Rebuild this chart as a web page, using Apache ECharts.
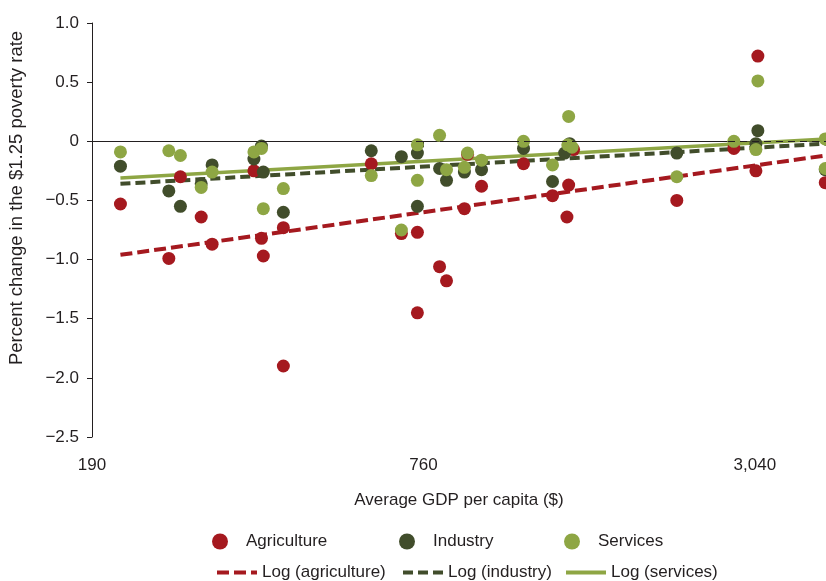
<!DOCTYPE html>
<html>
<head>
<meta charset="utf-8">
<script src="https://cdn.jsdelivr.net/npm/echarts@6/dist/echarts.min.js"></script>
<style>
  html, body { margin: 0; padding: 0; background: #ffffff; }
  #chart { width: 826px; height: 581px; }
</style>
</head>
<body>
<div id="chart"></div>
<script>
// Average GDP per capita ($) and percent change in the $1.25 poverty rate, by sector
const agricultureGdp    = [214, 262, 275, 300, 314, 374, 386, 389, 423, 423, 611, 693, 741, 741, 813, 837, 914, 902, 969, 1155, 1304, 1395, 1385, 1424, 2193, 2784, 3053, 3078, 4080];
const agricultureChange = [-0.53, -0.99, -0.30, -0.64, -0.87, -0.25, -0.82, -0.97, -0.73, -1.90, -0.19, -0.78, -0.77, -1.45, -1.06, -1.18, -0.11, -0.57, -0.38, -0.19, -0.46, -0.37, -0.64, -0.07, -0.50, -0.06, -0.25, 0.72, -0.35];

const industryGdp    = [214, 262, 275, 300, 314, 374, 386, 389, 423, 611, 693, 741, 741, 813, 837, 902, 969, 1155, 1304, 1401, 1372, 2193, 3053, 3078, 4080];
const industryChange = [-0.21, -0.42, -0.55, -0.36, -0.20, -0.15, -0.04, -0.26, -0.60, -0.08, -0.13, -0.10, -0.55, -0.23, -0.33, -0.26, -0.24, -0.06, -0.34, -0.02, -0.10, -0.10, -0.02, 0.09, -0.24];

const servicesGdp    = [214, 262, 275, 300, 314, 374, 386, 389, 423, 611, 693, 741, 741, 813, 837, 902, 914, 969, 1155, 1304, 1395, 1390, 1415, 2193, 2784, 3053, 3078, 4080, 4080];
const servicesChange = [-0.09, -0.08, -0.12, -0.39, -0.26, -0.09, -0.06, -0.57, -0.40, -0.29, -0.75, -0.03, -0.33, 0.05, -0.24, -0.22, -0.10, -0.16, 0.00, -0.20, 0.21, -0.03, -0.05, -0.30, 0.00, -0.07, 0.51, 0.02, -0.23];

// Logarithmic trend lines (start and end of each fitted line)
const trendGdp         = [214, 4093];
const agricultureTrend = [-0.96, -0.12];
const industryTrend    = [-0.36, -0.02];
const servicesTrend    = [-0.31, 0.02];

// Axis settings
const gdpAxisBase = 190;          // left end of the GDP axis
const gdpAxisMax = 4093;          // right end of the GDP axis
const gdpTickLabels = ['190', '760', '3,040'];
const changeMin = -2.5, changeMax = 1.0, changeStep = 0.5;

// GDP is spaced on a base-4 log scale starting at 190
const toLog = g => Math.log(g / gdpAxisBase) / Math.log(4);
const pairs = (xs, ys) => xs.map((g, i) => [toLog(g), ys[i]]);

const RED = '#a5191f';
const DARK = '#414d2b';
const LIGHT = '#8ea644';
const INK = '#231f20';
const FONT = "'Liberation Sans', 'Arial', sans-serif";

const chart = echarts.init(document.getElementById('chart'));

function legendItem(name, left, top, isLine) {
  return {
    data: [isLine
      ? { name: name, itemStyle: { opacity: 0 } }
      : { name: name, icon: 'circle' }],
    left: left,
    top: top,
    padding: 0,
    itemWidth: isLine ? 40 : 42,
    itemHeight: isLine ? 14 : 16,
    selectedMode: false,
    lineStyle: { width: 4 },
    textStyle: { fontFamily: FONT, fontSize: 17, color: INK }
  };
}

const option = {
  animation: false,
  backgroundColor: '#ffffff',
  textStyle: { fontFamily: FONT },
  grid: { left: 92, right: 0, top: 23, bottom: 144 },
  xAxis: {
    type: 'value',
    min: 0,
    max: toLog(gdpAxisMax),
    interval: 1,
    name: 'Average GDP per capita ($)',
    nameLocation: 'middle',
    nameGap: 55,
    nameTextStyle: { fontFamily: FONT, fontSize: 17, color: INK },
    axisLine: { show: true, lineStyle: { color: INK, width: 1 } },
    axisTick: { show: true, length: 6, lineStyle: { color: INK } },
    axisLabel: {
      margin: 20,
      fontFamily: FONT, fontSize: 17, color: INK,
      showMaxLabel: false,
      formatter: v => {
        const k = Math.round(v);
        return Math.abs(v - k) < 1e-6 && gdpTickLabels[k] ? gdpTickLabels[k] : '';
      }
    },
    splitLine: { show: false }
  },
  yAxis: {
    type: 'value',
    min: changeMin,
    max: changeMax,
    interval: changeStep,
    axisLine: { show: true, lineStyle: { color: INK, width: 1 } },
    axisTick: { show: true, length: 5, lineStyle: { color: INK } },
    axisLabel: {
      margin: 13,
      fontFamily: FONT, fontSize: 17, color: INK,
      formatter: v => v === 0 ? '0' : (v < 0 ? '\u2212' : '') + Math.abs(v).toFixed(1)
    },
    splitLine: { show: false }
  },
  legend: [
    legendItem('Agriculture', 212, 533, false),
    legendItem('Industry', 399, 533, false),
    legendItem('Services', 564, 533, false),
    legendItem('Log (agriculture)', 215, 564, true),
    legendItem('Log (industry)', 401, 564, true),
    legendItem('Log (services)', 564, 564, true)
  ],
  graphic: [{
    type: 'text',
    x: 17,
    y: 198,
    rotation: Math.PI / 2,
    style: {
      text: 'Percent change in the $1.25 poverty rate',
      fontFamily: FONT,
      fontSize: 18.5,
      fill: INK,
      align: 'center',
      verticalAlign: 'middle'
    }
  }],
  series: [
    {
      name: 'Log (agriculture)',
      type: 'line',
      data: pairs(trendGdp, agricultureTrend),
      symbol: 'none',
      z: 2,
      lineStyle: { color: RED, width: 4, type: [12, 5] },
      itemStyle: { color: RED },
      markLine: {
        silent: true,
        symbol: 'none',
        label: { show: false },
        lineStyle: { color: INK, width: 1.2, type: [7, 5] },
        data: [{ yAxis: 0 }]
      }
    },
    {
      name: 'Log (industry)',
      type: 'line',
      data: pairs(trendGdp, industryTrend),
      symbol: 'none',
      z: 2,
      lineStyle: { color: DARK, width: 4, type: [10, 5] },
      itemStyle: { color: DARK }
    },
    {
      name: 'Log (services)',
      type: 'line',
      data: pairs(trendGdp, servicesTrend),
      symbol: 'none',
      z: 2,
      lineStyle: { color: LIGHT, width: 3.5 },
      itemStyle: { color: LIGHT }
    },
    {
      name: 'Agriculture',
      type: 'scatter',
      data: pairs(agricultureGdp, agricultureChange),
      symbol: 'circle',
      symbolSize: 13,
      z: 3,
      itemStyle: { color: RED, opacity: 1 }
    },
    {
      name: 'Industry',
      type: 'scatter',
      data: pairs(industryGdp, industryChange),
      symbol: 'circle',
      symbolSize: 13,
      z: 3,
      itemStyle: { color: DARK, opacity: 1 }
    },
    {
      name: 'Services',
      type: 'scatter',
      data: pairs(servicesGdp, servicesChange),
      symbol: 'circle',
      symbolSize: 13,
      z: 3,
      itemStyle: { color: LIGHT, opacity: 1 }
    }
  ]
};

chart.setOption(option);
</script>
</body>
</html>
